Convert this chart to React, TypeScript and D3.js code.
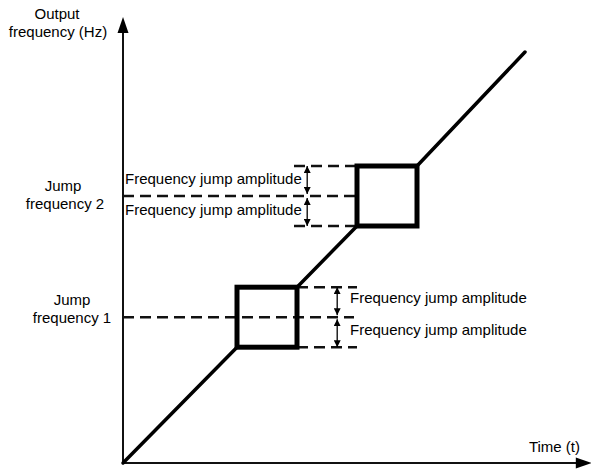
import React from "react";
import * as d3 from "d3";

// Data (abstract units: time t, frequency f)
const timePoints = [0, 1.9, 2.9, 3.9, 4.9, 6.7];
const freqPoints = [0, 1.93, 2.93, 3.95, 4.95, 6.85];
const jumpFrequencies = [2.43, 4.45];
const jumpAmplitude = 0.5;
const jumpLabels = [
  ["Jump", "frequency 1"],
  ["Jump", "frequency 2"],
];
const amplitudeLabel = "Frequency jump amplitude";
const yAxisLabel = ["Output", "frequency (Hz)"];
const xAxisLabel = "Time (t)";

const W = 591;
const H = 469;
const FONT = "'Liberation Sans', Arial, sans-serif";

export default function App() {
  const x = d3.scaleLinear().domain([0, 8]).range([123, 603]);
  const y = d3.scaleLinear().domain([0, 8]).range([463, -17]);
  const t = timePoints;
  const f = freqPoints;
  const x0 = x(0);
  const y0 = y(0);
  const xEnd = x(7.78);
  const yTop = y(7.4);

  const line = d3.line<[number, number]>().x((d) => x(d[0])).y((d) => y(d[1]));
  const segments: [number, number][][] = [
    [[t[0], f[0]], [t[1], f[1]]],
    [[t[2], f[2]], [t[3], f[3]]],
    [[t[4], f[4]], [t[5], f[5]]],
  ];
  const boxes = [
    { t0: t[1], t1: t[2], f0: f[1], f1: f[2] },
    { t0: t[3], t1: t[4], f0: f[3], f1: f[4] },
  ];

  const [j1, j2] = jumpFrequencies;
  const a = jumpAmplitude;
  // dashed lines
  const dashes: { xa: number; xb: number; yv: number }[] = [
    { xa: 0, xb: t[2] + 0.95, yv: j1 },
    { xa: t[2], xb: t[2] + 1.0, yv: j1 + a },
    { xa: t[2], xb: t[2] + 1.0, yv: j1 - a },
    { xa: 0, xb: t[3], yv: j2 },
    { xa: t[3] - 1.05, xb: t[3], yv: j2 + a },
    { xa: t[3] - 1.05, xb: t[3], yv: j2 - a },
  ];
  const arrows: { xv: number; ya: number; yb: number }[] = [
    { xv: t[2] + 0.67, ya: j1, yb: j1 + a },
    { xv: t[2] + 0.67, ya: j1, yb: j1 - a },
    { xv: t[3] - 0.83, ya: j2, yb: j2 + a },
    { xv: t[3] - 0.83, ya: j2, yb: j2 - a },
  ];

  return (
    <svg width={W} height={H} style={{ position: "absolute", left: 0, top: 0, background: "#fff" }}>
      <defs>
        <marker id="ah" viewBox="0 0 10 10" refX="10" refY="5" markerWidth="7" markerHeight="7" orient="auto-start-reverse" markerUnits="userSpaceOnUse">
          <path d="M0,0 L10,5 L0,10 Z" fill="#000" />
        </marker>
      </defs>
      {/* axes */}
      <line x1={x0} y1={y0} x2={x0} y2={yTop + 12} stroke="#111" strokeWidth={2} />
      <path d={`M${x0},${yTop - 2} L${x0 - 5.5},${yTop + 14} L${x0 + 5.5},${yTop + 14} Z`} fill="#000" />
      <line x1={x0} y1={y0} x2={xEnd - 12} y2={y0} stroke="#111" strokeWidth={2} />
      <path d={`M${xEnd + 2},${y0} L${xEnd - 14},${y0 - 5.5} L${xEnd - 14},${y0 + 5.5} Z`} fill="#000" />

      {/* dashed lines */}
      {dashes.map((d, i) => (
        <line key={"d" + i} x1={x(d.xa)} x2={x(d.xb)} y1={y(d.yv)} y2={y(d.yv)} stroke="#111" strokeWidth={2.5} strokeDasharray="11 6" />
      ))}

      {/* diagonal ramp */}
      {segments.map((s, i) => (
        <path key={"s" + i} d={line(s) || ""} stroke="#000" strokeWidth={3.5} fill="none" strokeLinecap="round" />
      ))}
      {boxes.map((b, i) => (
        <rect key={"b" + i} x={x(b.t0)} y={y(b.f1)} width={x(b.t1) - x(b.t0)} height={y(b.f0) - y(b.f1)} fill="none" stroke="#000" strokeWidth={5} />
      ))}

      {/* amplitude arrows */}
      {arrows.map((ar, i) => (
        <line key={"a" + i} x1={x(ar.xv)} x2={x(ar.xv)} y1={y(ar.ya) + (ar.yb > ar.ya ? -2 : 2)} y2={y(ar.yb)} stroke="#000" strokeWidth={1.3} markerStart="url(#ah)" markerEnd="url(#ah)" />
      ))}

      {/* texts */}
      <g fontFamily={FONT} fontSize={15} fill="#000">
        <text x={57} y={19} textAnchor="middle">{yAxisLabel[0]}</text>
        <text x={58} y={37} textAnchor="middle">{yAxisLabel[1]}</text>
        <text x={580} y={452} textAnchor="end">{xAxisLabel}</text>
        <text x={72} y={y(j1) - 12} textAnchor="middle">{jumpLabels[0][0]}</text>
        <text x={72} y={y(j1) + 6} textAnchor="middle">{jumpLabels[0][1]}</text>
        <text x={63} y={y(j2) - 5} textAnchor="middle">{jumpLabels[1][0]}</text>
        <text x={65} y={y(j2) + 13} textAnchor="middle">{jumpLabels[1][1]}</text>
        <text x={125} y={y(j2 + a / 2) + 3}>{amplitudeLabel}</text>
        <text x={125} y={y(j2 - a / 2) + 4}>{amplitudeLabel}</text>
        <text x={350} y={y(j1 + a / 2) + 1}>{amplitudeLabel}</text>
        <text x={350} y={y(j1 - a / 2) + 3}>{amplitudeLabel}</text>
      </g>
    </svg>
  );
}
